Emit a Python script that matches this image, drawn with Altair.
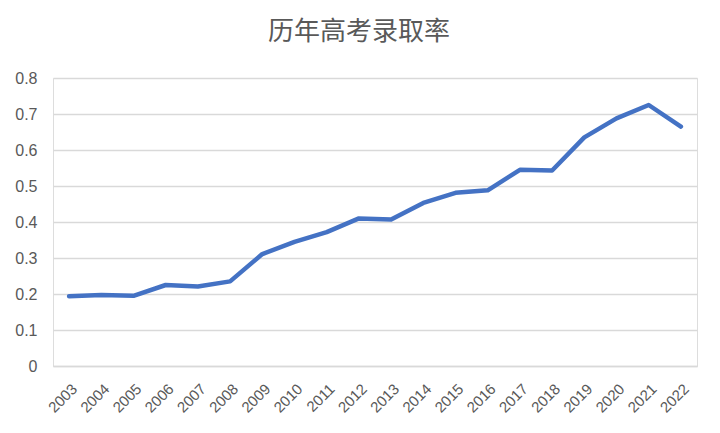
import altair as alt
import pandas as pd

years = [str(y) for y in range(2003, 2023)]
rates = [0.194, 0.197, 0.195, 0.225, 0.221, 0.235, 0.311, 0.345, 0.372, 0.410,
         0.407, 0.453, 0.481, 0.488, 0.545, 0.543, 0.635, 0.688, 0.725, 0.665]

df = pd.DataFrame({"year": years, "rate": rates})

grey = "#595959"
grid = "#d9d9d9"

chart = alt.Chart(df).mark_line(
    color="#4472C4", strokeWidth=4.5, strokeCap="round", strokeJoin="round"
).encode(
    x=alt.X("year:N", sort=years, title=None,
            scale=alt.Scale(paddingInner=0, paddingOuter=0.5),
            axis=alt.Axis(labelAngle=-45, labelColor=grey, labelFontSize=15,
                          labelFont="Liberation Sans", ticks=False,
                          domainColor=grid, domainWidth=1.5, labelPadding=15)),
    y=alt.Y("rate:Q", title=None,
            scale=alt.Scale(domain=[0, 0.8], nice=False),
            axis=alt.Axis(values=[0, 0.1, 0.2, 0.3, 0.4, 0.5, 0.6, 0.7, 0.8],
                          format="~g", labelColor=grey, labelFontSize=16,
                          labelFont="Liberation Sans", ticks=False, domain=False,
                          gridColor=grid, gridWidth=1.5, labelPadding=16)),
).properties(
    width=644, height=288,
    title=alt.TitleParams("历年高考录取率", font="Noto Sans CJK SC", fontSize=26,
                          fontWeight="normal", color=grey, dx=-16, offset=25),
    autosize=alt.AutoSizeParams(type="none"),
    padding={"left": 45, "top": 70, "right": 15, "bottom": 59},
).configure_view(stroke=None).configure(background="white")

chart.save("out.html", embed_options={"renderer": "svg", "actions": False})
